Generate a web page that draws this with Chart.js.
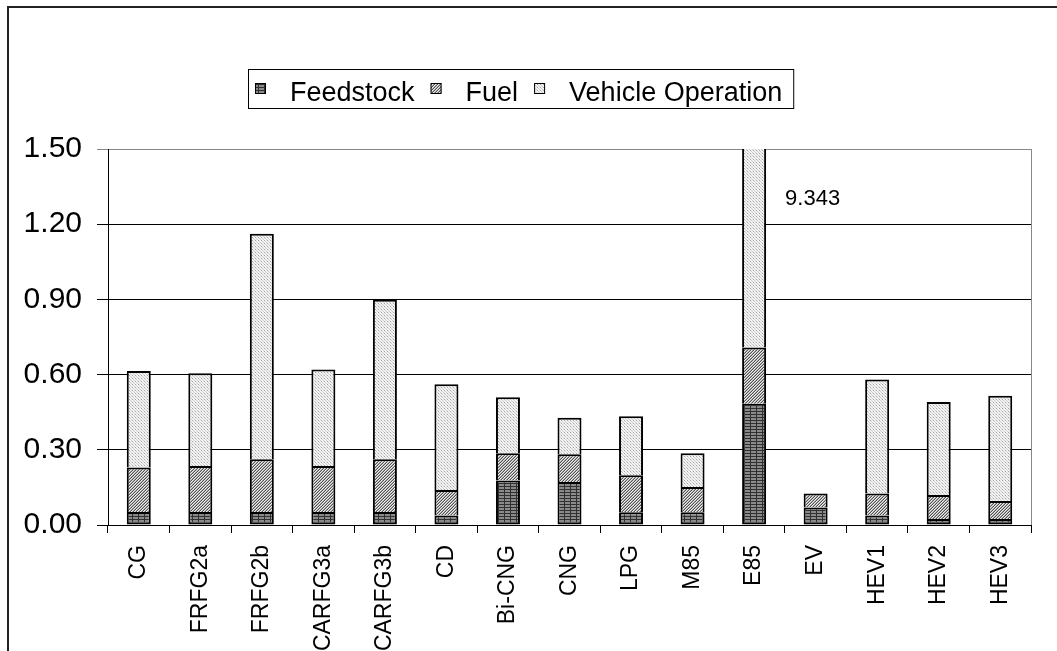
<!DOCTYPE html>
<html>
<head>
<meta charset="utf-8">
<script src="https://cdn.jsdelivr.net/npm/chart.js@4/dist/chart.umd.min.js"></script>
<style>
  html, body { margin: 0; padding: 0; background: #fff; }
  canvas { display: block; }
</style>
</head>
<body>
<canvas id="chart" width="1057" height="651"></canvas>
<script>
const categories = ['CG', 'FRFG2a', 'FRFG2b', 'CARFG3a', 'CARFG3b', 'CD', 'Bi-CNG', 'CNG', 'LPG', 'M85', 'E85', 'EV', 'HEV1', 'HEV2', 'HEV3'];
const feedstock = [0.052, 0.052, 0.052, 0.052, 0.052, 0.038, 0.178, 0.172, 0.051, 0.051, 0.484, 0.070, 0.038, 0.024, 0.024];
const fuel = [0.177, 0.183, 0.210, 0.183, 0.210, 0.102, 0.108, 0.110, 0.147, 0.101, 0.224, 0.056, 0.088, 0.096, 0.072];
const vehicleOperation = [0.385, 0.370, 0.900, 0.385, 0.637, 0.422, 0.224, 0.146, 0.236, 0.134, 8.635, 0, 0.454, 0.371, 0.420];
const yTicks = [0, 0.30, 0.60, 0.90, 1.20, 1.50];
const labelledBar = 'E85';

const FONT = 'Arial, "Liberation Sans", sans-serif';

// little tiles that imitate the old Excel fill patterns
function makePattern(w, h, draw) {
    const c = document.createElement('canvas');
    c.width = w;
    c.height = h;
    const g = c.getContext('2d');
    draw(g);
    return g.createPattern(c, 'repeat');
}

const ctx = document.getElementById('chart').getContext('2d');

const gridFill = makePattern(6, 3, g => {
    g.fillStyle = '#8a8a8a';
    g.fillRect(0, 0, 6, 3);
    g.fillStyle = '#303030';
    g.fillRect(0, 0, 6, 1);
    g.fillRect(0, 0, 1, 3);
});
const hatchFill = makePattern(3, 3, g => {
    g.fillStyle = '#ececec';
    g.fillRect(0, 0, 3, 3);
    g.fillStyle = '#525252';
    g.fillRect(2, 0, 1, 1);
    g.fillRect(1, 1, 1, 1);
    g.fillRect(0, 2, 1, 1);
    g.fillStyle = '#acacac';
    g.fillRect(1, 0, 1, 1);
    g.fillRect(0, 1, 1, 1);
    g.fillRect(2, 2, 1, 1);
});
const dotFill = makePattern(3, 3, g => {
    g.fillStyle = '#f2f2f2';
    g.fillRect(0, 0, 3, 3);
    g.fillStyle = '#a6a6a6';
    g.fillRect(0, 0, 1, 1);
    g.fillStyle = '#cfcfcf';
    g.fillRect(1, 1, 1, 1);
    g.fillRect(2, 2, 1, 1);
});

const frame = {
    id: 'frame',
    beforeDraw(chart) {
        const c = chart.ctx;
        c.save();
        c.fillStyle = '#fff';
        c.fillRect(0, 0, chart.width, chart.height);
        c.strokeStyle = '#222';
        c.lineWidth = 2;
        c.strokeRect(8, 7, chart.width + 20, chart.height + 20);
        c.restore();
    },
    beforeDatasetsDraw(chart) {
        const a = chart.chartArea;
        const c = chart.ctx;
        c.save();
        c.strokeStyle = '#888';
        c.lineWidth = 1;
        c.beginPath();
        c.moveTo(a.right + 0.5, a.top);
        c.lineTo(a.right + 0.5, a.bottom);
        c.stroke();
        c.restore();
    }
};

const boxLegend = {
    id: 'boxLegend',
    afterDraw(chart) {
        const c = chart.ctx;
        c.save();
        c.font = '27px ' + FONT;
        const items = chart.data.datasets.map(ds => ({ text: ds.label, fill: ds.backgroundColor, w: c.measureText(ds.label).width }));
        const left = 248, top = 69, height = 39;
        let width = 18;
        items.forEach((it, i) => { width += 11 + 24 + it.w + (i < items.length - 1 ? 16 : 0); });
        c.fillStyle = '#fff';
        c.fillRect(left, top, width, height);
        c.strokeStyle = '#000';
        c.lineWidth = 1;
        c.strokeRect(left + 0.5, top + 0.5, width, height);
        let x = left + 7;
        items.forEach(it => {
            c.fillStyle = it.fill;
            c.fillRect(x, 83, 11, 11);
            c.strokeStyle = '#000';
            c.strokeRect(x + 0.5, 83.5, 10, 10);
            c.fillStyle = '#000';
            c.textBaseline = 'alphabetic';
            c.textAlign = 'left';
            c.fillText(it.text, x + 35, 101);
            x += 11 + 24 + it.w + 16;
        });
        c.restore();
    }
};

const totalLabel = {
    id: 'totalLabel',
    afterDatasetsDraw(chart) {
        const i = categories.indexOf(labelledBar);
        const total = feedstock[i] + fuel[i] + vehicleOperation[i];
        const xs = chart.scales.x, ys = chart.scales.y;
        const c = chart.ctx;
        c.save();
        c.font = '22px ' + FONT;
        c.fillStyle = '#000';
        c.textAlign = 'left';
        c.textBaseline = 'middle';
        c.fillText(total.toFixed(3), xs.getPixelForValue(i) + 31, ys.getPixelForValue(1.30));
        c.restore();
    }
};

function barSet(label, data, fill, skip) {
    return {
        label: label,
        data: data,
        backgroundColor: fill,
        borderColor: '#000',
        borderWidth: 2,
        borderSkipped: skip,
        barPercentage: 0.39,
        categoryPercentage: 1
    };
}

new Chart(ctx, {
    type: 'bar',
    data: {
        labels: categories,
        datasets: [
            barSet('Feedstock', feedstock, gridFill, false),
            barSet('Fuel', fuel, hatchFill, 'start'),
            barSet('Vehicle Operation', vehicleOperation, dotFill, 'start')
        ]
    },
    options: {
        responsive: false,
        animation: false,
        events: [],
        layout: { padding: { left: 8, top: 149, right: 26, bottom: 0 } },
        plugins: {
            legend: { display: false },
            tooltip: { enabled: false }
        },
        scales: {
            x: {
                stacked: true,
                grid: { offset: true, drawOnChartArea: false, tickLength: 8, color: '#000' },
                border: { color: '#000', width: 1 },
                ticks: {
                    autoSkip: false,
                    minRotation: 90,
                    maxRotation: 90,
                    padding: 12,
                    color: '#000',
                    font: { family: FONT, size: 23 }
                },
                afterFit(scale) { scale.height = 126; }
            },
            y: {
                stacked: true,
                min: 0,
                max: 1.5,
                afterBuildTicks(scale) { scale.ticks = yTicks.map(v => ({ value: v })); },
                grid: {
                    tickLength: 11,
                    color: c => (c.tick && c.tick.value === 1.5 ? '#888' : '#000')
                },
                border: { color: '#000', width: 1 },
                ticks: {
                    padding: 15,
                    color: '#000',
                    font: { family: FONT, size: 30 },
                    callback: v => Number(v).toFixed(2)
                },
                afterFit(scale) { scale.width = 100; }
            }
        }
    },
    plugins: [frame, boxLegend, totalLabel]
});
</script>
</body>
</html>
